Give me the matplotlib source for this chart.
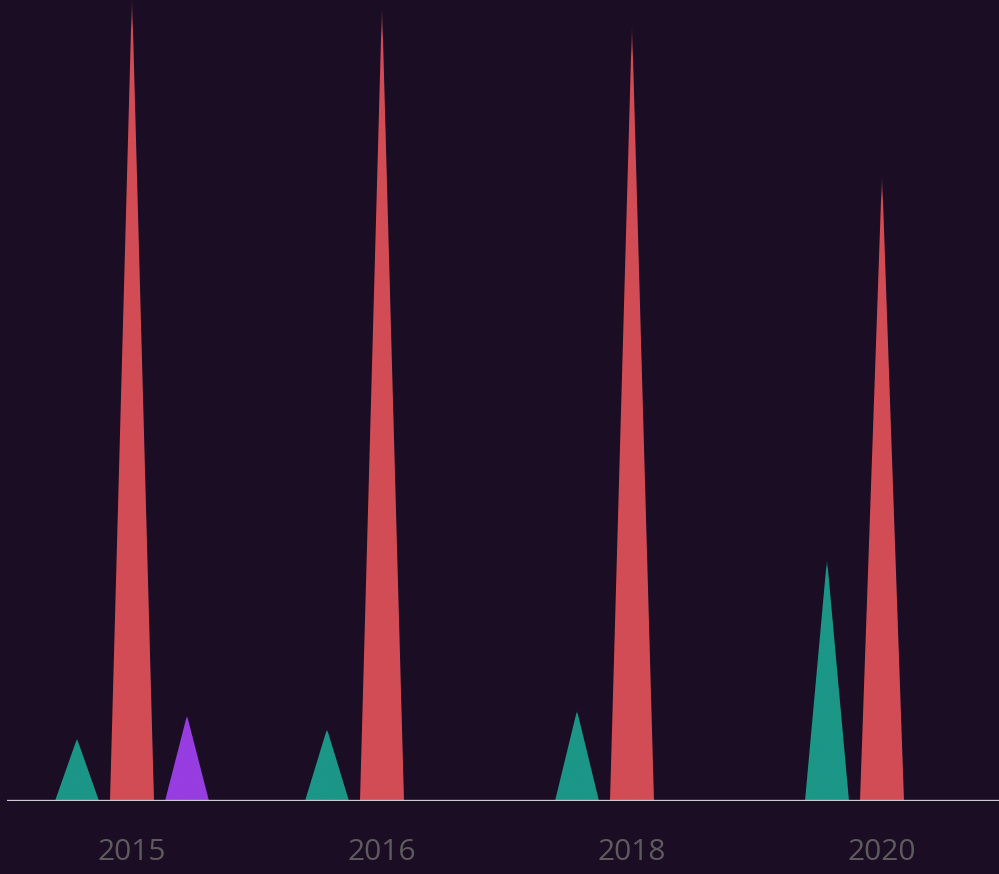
import matplotlib.pyplot as plt
import numpy as np
from matplotlib.patches import Polygon

years = ["2015", "2016", "2018", "2020"]
teal_vals = [7.8, 9.0, 11.3, 30.3]
red_vals = [101.0, 99.8, 97.4, 78.6]
purple_vals = [10.7, 0, 0, 0]

series = [(teal_vals, "#1c9b8b"), (red_vals, "#d94f57"), (purple_vals, "#9c3fe8")]
bg = "#1a0d24"

fig = plt.figure(figsize=(9.99, 8.74), dpi=100, facecolor=bg)
ax = fig.add_axes([7/999, 73/874, 992/999, 800/874])
ax.set_facecolor(bg)
ax.set_xlim(-0.5, 3.468)
ax.set_ylim(0, 100)

half = 0.088
for j, (vals, col) in enumerate(series):
    off = (j - 1) * 0.22
    rgb = np.array(plt.matplotlib.colors.to_rgb(col))
    for i, v in enumerate(vals):
        if v <= 0:
            continue
        xc = i + off
        tri = Polygon([(xc - half, 0), (xc, v), (xc + half, 0)], closed=True,
                      facecolor="none", edgecolor="none")
        ax.add_patch(tri)
        # vertical gradient, fading out near the tip
        fade = 0.045 * v
        ys = np.linspace(v, 0, 300)
        alpha = np.clip((v - ys) / fade, 0, 1) * 0.97
        img = np.zeros((300, 2, 4))
        img[:, :, :3] = rgb
        img[:, :, 3] = alpha[:, None]
        im = ax.imshow(img, extent=(xc - half, xc + half, 0, v), aspect="auto",
                       interpolation="bilinear", zorder=2)
        im.set_clip_path(tri)

ax.axhline(0, color="#ccc8d0", lw=2.4, zorder=3)
for s in ax.spines.values():
    s.set_visible(False)
ax.set_yticks([])
ax.set_xticks(range(len(years)))
ax.set_xticklabels(years, fontsize=21.5, color="#5e5b5e", family="Open Sans")
ax.tick_params(axis="x", length=0, pad=27)

fig.savefig("out.png", dpi=100, facecolor=bg)
